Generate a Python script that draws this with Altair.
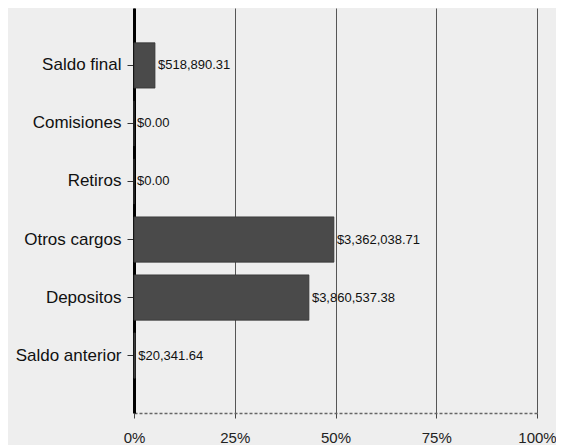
import altair as alt
import pandas as pd

categories = ["Saldo final", "Comisiones", "Retiros", "Otros cargos", "Depositos", "Saldo anterior"]
shares = [0.052, 0.0, 0.0, 0.496, 0.434, 0.003]
value_labels = ["$518,890.31", "$0.00", "$0.00", "$3,362,038.71", "$3,860,537.38", "$20,341.64"]
x_ticks = [0, 0.25, 0.5, 0.75, 1.0]

df = pd.DataFrame({"cat": categories, "share": shares, "label": value_labels})

y_enc = alt.Y(
    "cat:N",
    sort=categories,
    title=None,
    scale=alt.Scale(paddingInner=0.22, paddingOuter=0.6),
    axis=alt.Axis(
        domainColor="#000000", domainWidth=3, tickColor="#333333", tickSize=7,
        tickWidth=1, labelPadding=6, labelFont="Liberation Sans", labelFontSize=17,
        labelColor="#111111",
    ),
)
x_enc = alt.X(
    "share:Q",
    title=None,
    scale=alt.Scale(domain=[0, 1], nice=False),
    axis=alt.Axis(
        values=x_ticks, format=".0%", grid=True, gridColor="#555555", gridWidth=1,
        domainColor="#666666", domainDash=[3, 2], domainWidth=1.5, tickColor="#444444",
        tickSize=5, labelPadding=12, labelFont="Liberation Sans", labelFontSize=15,
        labelColor="#222222", labelBaseline="top", labelFlush=False, labelAlign="center",
    ),
)

bars = alt.Chart(df).mark_bar(color="#4a4a4a", stroke="#333333", strokeWidth=0.8).encode(
    x=x_enc, y=y_enc
)
texts = alt.Chart(df).mark_text(
    align="left", baseline="middle", dx=3, font="Liberation Sans", fontSize=13, color="#111111"
).encode(x="share:Q", y=alt.Y("cat:N", sort=categories), text="label:N")

chart = (
    alt.layer(bars, texts)
    .properties(
        width=403, height=405,
        autosize=alt.AutoSizeParams(type="none"),
        padding={"left": 126, "top": 0, "right": 19, "bottom": 32},
    )
    .configure(background="#eeeeee")
    .configure_view(stroke=None)
)

chart.save("out.html", embed_options={"renderer": "svg", "actions": False})
